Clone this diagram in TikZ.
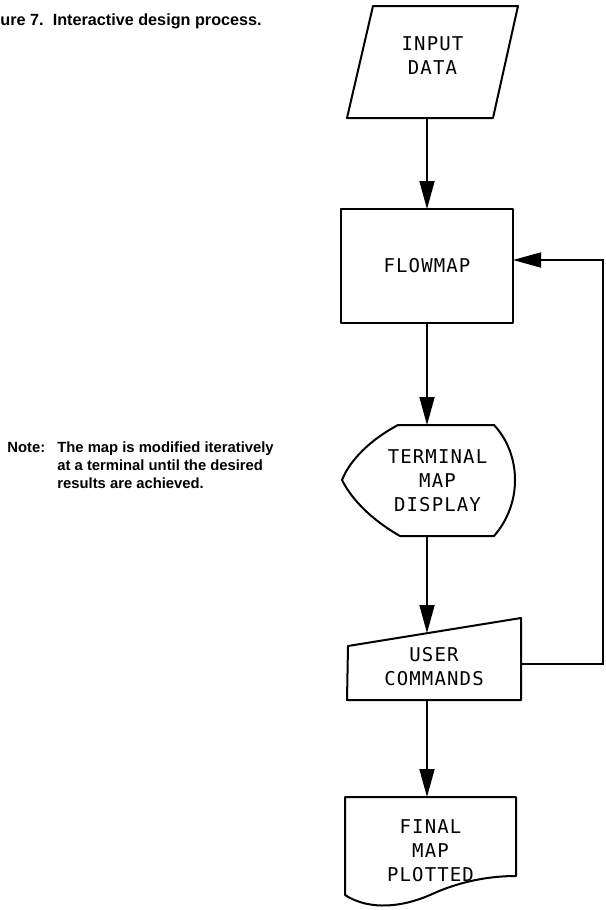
\documentclass[tikz,border=0pt]{standalone}
\usepackage{fontspec}
\setmainfont{Liberation Sans}
\newfontfamily\boxfont[LetterSpace=6]{DejaVu Sans Mono}
\usetikzlibrary{calc}
\usetikzlibrary{positioning}
\usetikzlibrary{arrows.meta}
\tikzset{
  outline/.style={line width=1pt, line join=round},
  flowbox/.style={inner sep=0pt, outer sep=0pt, align=center,
    font=\boxfont\fontsize{9.5}{12}\selectfont},
  arr/.style={line width=0.9pt, -{Triangle[length=14pt,width=7.5pt]}},
  caption/.style={inner sep=0pt, font=\bfseries\fontsize{8.1}{10}\selectfont}
}

\begin{document}
\begin{tikzpicture}[x=0.5pt,y=-0.5pt]
  \useasboundingbox (0,0) rectangle (605,910);

  % caption and note
  \node [caption, anchor=base west] (title) at (0,25.5) {ure 7.\hspace{4.6pt}Interactive design process.};
  \node [caption, anchor=north west, font=\bfseries\fontsize{7.4}{9}\selectfont] (note) at (7,439)
    {\begin{tabular}{@{}p{25pt}@{}l@{}}
      Note: & The map is modified iteratively\\
            & at a terminal until the desired\\
            & results are achieved.
     \end{tabular}};

  % boxes
  \draw [outline] (373,6) -- (518,6) -- (493,118) -- (347,118) -- cycle;
  \node [flowbox, minimum width=85.5pt, minimum height=56pt, text depth=6pt] (inp) at (432.5,62) {INPUT\\DATA};

  \draw [outline] (341,209) rectangle (513,323);
  \node [flowbox, minimum width=86pt, minimum height=57pt] (flow) at (427,266) {FLOWMAP};

  \draw [outline] (398,425) -- (494,425)
    .. controls (508,440) and (515,460) .. (515,480)
    .. controls (515,500) and (508,520) .. (494,536)
    -- (400,536)
    .. controls (372,520) and (352,500) .. (342,480)
    .. controls (350,460) and (370,440) .. (398,425) -- cycle;
  \node [flowbox, minimum width=77.5pt, minimum height=55.5pt] (term) at (437.5,480.5) {TERMINAL\\MAP\\DISPLAY};

  \draw [outline] (348,646) -- (521,618) -- (521,700) -- (347,700) -- cycle;
  \node [flowbox, minimum width=87pt, minimum height=33.5pt] (user) at (434,666.5) {USER\\COMMANDS};

  \draw [outline] (345,797) -- (516,797) -- (516,876)
    .. controls (490,876) and (460,881) .. (430,895)
    .. controls (395,910) and (365,908) .. (345,895) -- cycle;
  \node [flowbox, minimum width=85.5pt, minimum height=54pt] (final) at (430.5,851) {FINAL\\MAP\\PLOTTED};

  % connectors
  \draw [arr] (flow.north |- inp.south) -- (flow.north);
  \draw [arr] (flow.south) -- (flow.south |- term.north);
  \draw [arr] (flow.south |- term.south) -- (flow.south |- user.north);
  \draw [arr] (flow.south |- user.south) -- (flow.south |- final.north);
  \draw [arr] ([yshift=1.25pt]user.east) -- ++(82,0) |- ([yshift=3pt]flow.east);

\end{tikzpicture}
\end{document}
